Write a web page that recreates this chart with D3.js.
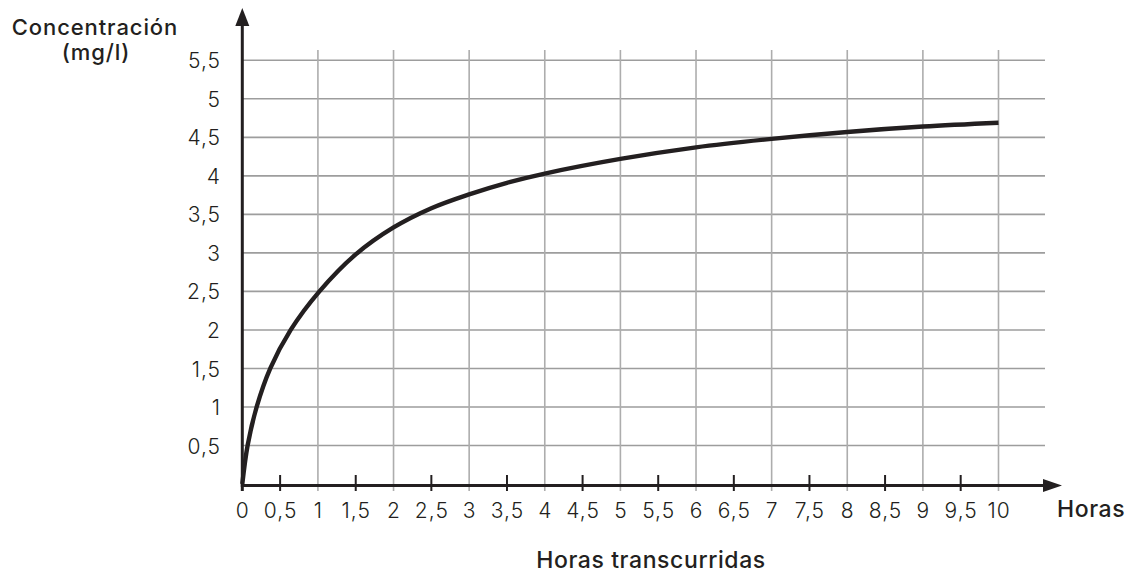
<!DOCTYPE html>
<html><head><meta charset="utf-8">
<script src="https://cdn.jsdelivr.net/npm/d3@7"></script>
<style>
html,body{margin:0;padding:0;background:#fff;}
svg{display:block;font-family:Inter,"Noto Sans",sans-serif;}
</style></head>
<body>
<svg id="c" width="1129" height="574"></svg>
<script>
// Data
const hours = [0, 0.07, 0.19, 0.37, 0.64, 1.02, 1.5, 2, 2.5, 3, 3.5, 4, 5, 6, 7, 8, 9, 10];
const concentration = [0, 0.5, 1.0, 1.5, 2.0, 2.5, 2.98, 3.33, 3.58, 3.76, 3.91, 4.03, 4.22, 4.37, 4.48, 4.57, 4.64, 4.69];
const xTickValues = [0,0.5,1,1.5,2,2.5,3,3.5,4,4.5,5,5.5,6,6.5,7,7.5,8,8.5,9,9.5,10];
const yTickValues = [0.5,1,1.5,2,2.5,3,3.5,4,4.5,5,5.5];
const xGridValues = [1,2,3,4,5,6,7,8,9,10];
const fmt = d => String(d).replace('.', ',');

const svg = d3.select('#c');
const x = d3.scaleLinear().domain([0, 10]).range([242.3, 998.5]);
const y = d3.scaleLinear().domain([0, 5.5]).range([484, 60.3]);
const ink = '#231f20';
const FONT = 'Inter,"Noto Sans",sans-serif';

// horizontal grid
svg.append('g').selectAll('line').data(yTickValues).join('line')
  .attr('x1', x(0)).attr('x2', 1045)
  .attr('y1', d => y(d)).attr('y2', d => y(d))
  .attr('stroke', '#9d9d9d').attr('stroke-width', 1.6);
// vertical grid
svg.append('g').selectAll('line').data(xGridValues).join('line')
  .attr('x1', d => x(d)).attr('x2', d => x(d))
  .attr('y1', 50).attr('y2', 491)
  .attr('stroke', '#adadad').attr('stroke-width', 1.6);

// half ticks
svg.append('g').selectAll('line').data(xTickValues.filter(d => d % 1 !== 0)).join('line')
  .attr('x1', d => x(d)).attr('x2', d => x(d))
  .attr('y1', 475).attr('y2', 491)
  .attr('stroke', ink).attr('stroke-width', 2);

// axes lines
svg.append('line').attr('x1', x(0)).attr('x2', x(0)).attr('y1', 491).attr('y2', 22)
  .attr('stroke', ink).attr('stroke-width', 3);
svg.append('path').attr('d', `M${x(0)},8 L${x(0)-7},26 L${x(0)+7},26 Z`).attr('fill', ink);
svg.append('line').attr('x1', x(0)-1.5).attr('x2', 1046).attr('y1', y(0)+1.5).attr('y2', y(0)+1.5)
  .attr('stroke', ink).attr('stroke-width', 3);
svg.append('path').attr('d', `M1062,${y(0)+1.5} L1043,${y(0)+1.5-6.5} L1043,${y(0)+1.5+6.5} Z`).attr('fill', ink);

// axis labels via d3 axes
const xAxis = d3.axisBottom(x).tickValues(xTickValues).tickSize(0).tickPadding(0).tickFormat(fmt);
const gx = svg.append('g').call(xAxis);
gx.select('.domain').remove();
gx.selectAll('text').attr('y', 518).attr('dy', null)
  .attr('font-size', 21).attr('letter-spacing', 1).attr('fill', ink).attr('font-family', FONT).attr('font-weight', 300);

const yAxis = d3.axisLeft(y).tickValues(yTickValues).tickSize(0).tickPadding(0).tickFormat(fmt);
const gy = svg.append('g').attr('transform', 'translate(221,0)').call(yAxis);
gy.select('.domain').remove();
gy.selectAll('text').attr('dy', '0.36em')
  .attr('font-size', 21).attr('letter-spacing', 1).attr('fill', ink).attr('font-family', FONT).attr('font-weight', 300);

// curve
const line = d3.line().x((d, i) => x(hours[i])).y(d => y(d)).curve(d3.curveCatmullRom.alpha(0.5));
svg.append('path').datum(concentration).attr('d', line)
  .attr('fill', 'none').attr('stroke', ink).attr('stroke-width', 4.4).attr('stroke-linejoin', 'round');

// titles
const title = (t, xx, yy, anchor, fs, ls) => svg.append('text').attr('x', xx).attr('y', yy)
  .attr('text-anchor', anchor).attr('font-size', fs).attr('letter-spacing', ls)
  .attr('font-weight', 500).attr('fill', ink).attr('font-family', FONT).text(t);
title('Concentración', 95, 35, 'middle', 22, 0.9);
title('(mg/l)', 96, 60, 'middle', 22, 0.9);
title('Horas', 1057, 517, 'start', 23, 0.6);
title('Horas transcurridas', 651, 568, 'middle', 23, 0.6);
</script>
</body></html>
